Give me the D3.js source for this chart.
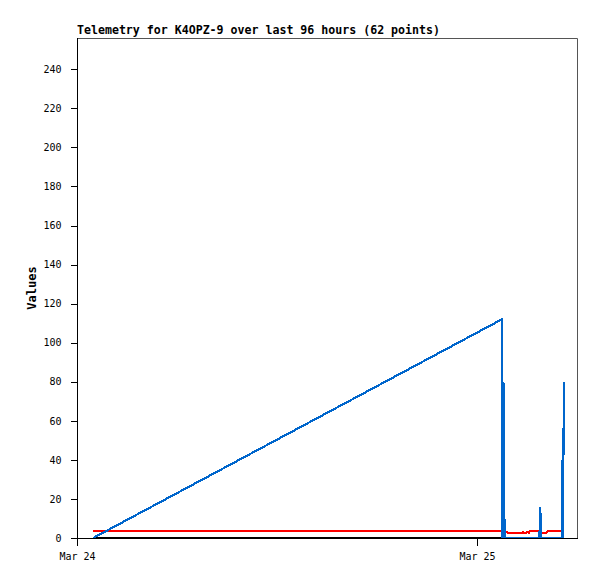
<!DOCTYPE html>
<html><head><meta charset="utf-8">
<script src="https://cdn.jsdelivr.net/npm/d3@7/dist/d3.min.js"></script>
<style>
html,body{margin:0;padding:0;background:#fff;}
svg{display:block;}
text{font-family:"DejaVu Sans Mono",monospace;fill:#000;}
</style></head>
<body>
<script>
const title = "Telemetry for K4OPZ-9 over last 96 hours (62 points)";
const yLabel = "Values";
const xDomain = ["2024-03-24T00:00", "2024-03-25T06:00"];
const xTickDates = ["2024-03-24T00:00", "2024-03-25T00:00"];
const xTickLabels = ["Mar 24", "Mar 25"];
const yTicks = [0, 20, 40, 60, 80, 100, 120, 140, 160, 180, 200, 220, 240];
const yMax = 256;

const times = [
 "2024-03-24T00:58",
 "2024-03-25T01:30","2024-03-25T01:32","2024-03-25T01:35","2024-03-25T01:37","2024-03-25T01:39",
 "2024-03-25T01:41","2024-03-25T01:46","2024-03-25T01:51","2024-03-25T01:56","2024-03-25T02:01",
 "2024-03-25T02:06","2024-03-25T02:11","2024-03-25T02:16","2024-03-25T02:21","2024-03-25T02:26",
 "2024-03-25T02:31","2024-03-25T02:36","2024-03-25T02:41","2024-03-25T02:46","2024-03-25T02:51",
 "2024-03-25T02:56","2024-03-25T03:01","2024-03-25T03:06","2024-03-25T03:11",
 "2024-03-25T03:16","2024-03-25T03:22","2024-03-25T03:28","2024-03-25T03:34","2024-03-25T03:40","2024-03-25T03:45",
 "2024-03-25T03:47","2024-03-25T03:50","2024-03-25T03:52",
 "2024-03-25T03:56","2024-03-25T04:00","2024-03-25T04:05","2024-03-25T04:10",
 "2024-03-25T04:14",
 "2024-03-25T04:17","2024-03-25T04:19","2024-03-25T04:22","2024-03-25T04:24","2024-03-25T04:27",
 "2024-03-25T04:29","2024-03-25T04:32","2024-03-25T04:34","2024-03-25T04:37","2024-03-25T04:39",
 "2024-03-25T04:42","2024-03-25T04:44","2024-03-25T04:47","2024-03-25T04:49","2024-03-25T04:52",
 "2024-03-25T04:54","2024-03-25T04:57","2024-03-25T05:02","2024-03-25T05:05",
 "2024-03-25T05:07","2024-03-25T05:09","2024-03-25T05:13"
];
const blueValues = [
 0,
 112, 0, 80, 64, 0,
 0, 0, 0, 0, 0, 0, 0, 0, 0, 0, 0, 0, 0, 0, 0, 0, 0, 0, 0,
 0, 0, 0, 0, 0, 0,
 16, 8, 0,
 0, 0, 0, 0,
 0,
 0, 0, 0, 0, 0, 0, 0, 0, 0, 0, 0, 0, 0, 0, 0, 0, 0, 0, 0,
 40, 0, 80
];
const redValues = [
 3.6,
 3.6, 3.6, 3.6, 3.6, 3.6,
 2.6, 3.1, 2.6, 2.6, 2.6, 2.6, 2.6, 2.6, 2.6, 2.6, 2.6, 2.6, 2.6, 3.1, 2.6, 2.6, 3.1, 2.6, 3.6,
 3.6, 3.6, 3.6, 3.6, 3.6, 3.6,
 3.6, 3.6, 2.6,
 2.6, 2.6, 2.6, 2.6,
 3.6,
 3.6, 3.6, 3.6, 3.6, 3.6, 3.6, 3.6, 3.6, 3.6, 3.6, 3.6, 3.6, 3.6, 3.6, 3.6, 3.6, 3.6, 3.6, 3.6,
 3.6, 3.6, 3.6
];
const blackValues = [
 0,
 0, 0, 0, 0, 0,
 0, 0, 0, 0, 0, 0, 0, 0, 0, 0, 0, 0, 0, 0, 0, 0, 0, 0, 0,
 0, 0, 0, 0, 0, 0,
 0, 0, 0,
 0, 0, 0, 0,
 0,
 0, 0, 0, 0, 0, 0, 0, 0, 0, 0, 0, 0, 0, 0, 0, 0, 0, 0, 0,
 0, 0, 0
];
const seriesColors = ["#000000", "#ff0000", "#0066cc"];

const W = 597, H = 579;
const m = {left: 77, top: 38, right: 20, bottom: 41};
const iw = W - m.left - m.right, ih = H - m.top - m.bottom;

const parse = d3.utcParse("%Y-%m-%dT%H:%M");
const T = times.map(parse);

const svg = d3.select("body").append("svg").attr("width", W).attr("height", H);
const x = d3.scaleUtc().domain(xDomain.map(parse)).range([m.left, m.left + iw]);
const y = d3.scaleLinear().domain([0, yMax]).range([m.top + ih, m.top]);

// frame top/right
svg.append("path")
  .attr("d", `M${m.left},${m.top + 0.5}H${m.left + iw + 0.5}V${m.top + ih}`)
  .attr("fill", "none").attr("stroke", "#555").attr("stroke-width", 1);

const line = d3.line().x(d => x(d[0])).y(d => y(d[1]));
const series = [blackValues, redValues, blueValues];
series.forEach((vals, i) => {
  svg.append("path")
    .datum(T.map((t, j) => [t, vals[j]]))
    .attr("d", line)
    .attr("fill", "none")
    .attr("stroke", seriesColors[i])
    .attr("stroke-width", 2.2)
    .attr("stroke-linejoin", "miter")
    .attr("shape-rendering", "crispEdges");
});

// axes
const yAxis = d3.axisLeft(y).tickValues(yTicks).tickSize(7).tickPadding(9).tickFormat(d3.format("d"));
const gy = svg.append("g").attr("transform", `translate(${m.left + 0.5},0)`).call(yAxis);
const xAxis = d3.axisBottom(x).tickValues(xTickDates.map(parse)).tickSize(7).tickPadding(7)
  .tickFormat((d, i) => xTickLabels[i]);
const gx = svg.append("g").attr("transform", `translate(0,${m.top + ih + 0.5})`).call(xAxis);
[gx, gy].forEach(g => {
  g.selectAll(".domain").attr("stroke", "#000").attr("shape-rendering", "crispEdges");
  g.selectAll(".tick line").attr("stroke", "#000").attr("shape-rendering", "crispEdges");
  g.selectAll("text").attr("font-family", "DejaVu Sans Mono").attr("font-size", 10).attr("fill", "#000");
});
gy.select(".domain").attr("d", `M-0,${m.top + ih + 1}V${m.top}`);
gx.select(".domain").attr("d", `M${m.left},0H${m.left + iw + 1}`);

svg.append("text").attr("x", m.left).attr("y", 34)
  .attr("font-size", 11.6).attr("font-weight", "bold").text(title);

svg.append("text").attr("transform", `translate(36,${m.top + ih / 2}) rotate(-90)`)
  .attr("text-anchor", "middle").attr("font-size", 12).attr("font-weight", "bold").text(yLabel);
</script>
</body></html>
